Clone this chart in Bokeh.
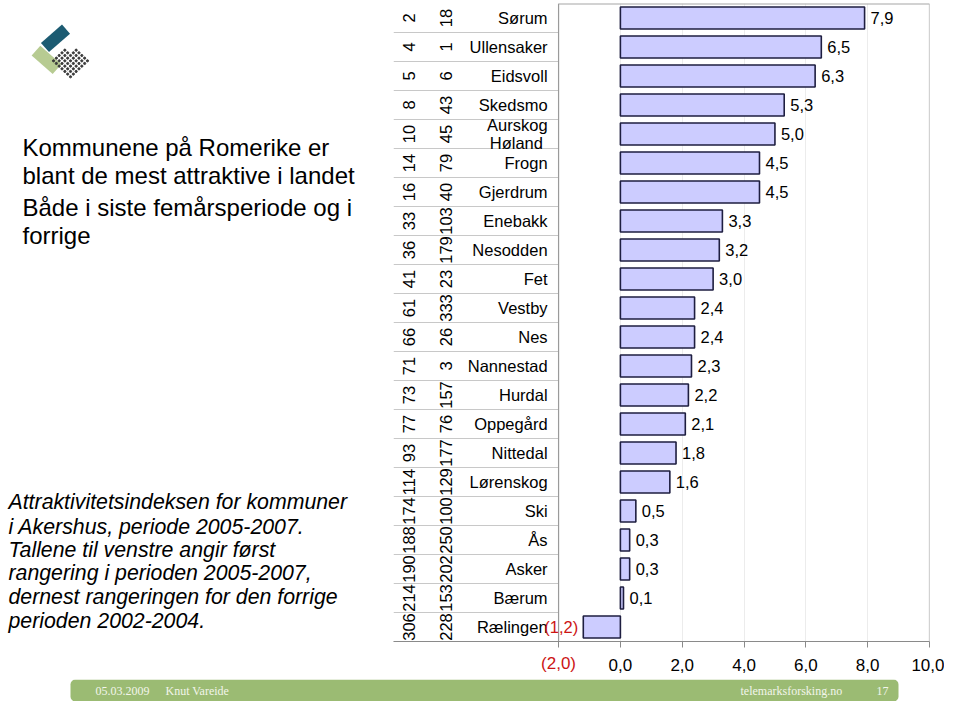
import numpy as np
from bokeh.plotting import figure
from bokeh.models import (Range1d, FixedTicker, LinearAxis, ColumnDataSource,
                          BoxAnnotation)
from bokeh.layouts import row, column
from bokeh.core.properties import value
from bokeh.embed import file_html
from bokeh.resources import INLINE

# ---------------- data ----------------
names = ["Sørum", "Ullensaker", "Eidsvoll", "Skedsmo", "Aurskog\nHøland ", "Frogn",
         "Gjerdrum", "Enebakk", "Nesodden", "Fet", "Vestby", "Nes", "Nannestad",
         "Hurdal", "Oppegård", "Nittedal", "Lørenskog", "Ski", "Ås", "Asker",
         "Bærum", "Rælingen"]
index_values = [7.9, 6.5, 6.3, 5.3, 5.0, 4.5, 4.5, 3.3, 3.2, 3.0, 2.4, 2.4, 2.3,
                2.2, 2.1, 1.8, 1.6, 0.5, 0.3, 0.3, 0.1, -1.2]
rank_2005_2007 = [2, 4, 5, 8, 10, 14, 16, 33, 36, 41, 61, 66, 71, 73, 77, 93, 114,
                  174, 188, 190, 214, 306]
rank_2002_2004 = [18, 1, 6, 43, 45, 79, 40, 103, 179, 23, 333, 26, 3, 157, 76, 177,
                  129, 100, 250, 202, 153, 228]
x_ticks = [-2, 0, 2, 4, 6, 8, 10]

headline = ["Kommunene på Romerike er", "blant de mest attraktive i landet",
            "Både i siste femårsperiode og i", "forrige"]
note = ["Attraktivitetsindeksen for kommuner", "i Akershus, periode 2005-2007.",
        "Tallene til venstre angir først", "rangering i perioden 2005-2007,",
        "dernest rangeringen for den forrige", "perioden 2002-2004."]
footer_texts = ["05.03.2009", "Knut Vareide", "telemarksforsking.no", "17"]

FONT = "Liberation Sans"
SERIF = "Liberation Serif"
RED = "#cc1414"


def fmt(v):
    s = f"{abs(v):.1f}".replace(".", ",")
    return f"({s})" if v < 0 else s


n = len(names)
pos = list(range(n))
bounds = [i + 0.5 for i in range(n)]
x_lo = min(x_ticks)
x_hi = max(x_ticks)
table_left = -7.34
TOP_H = 679

# ---------------- chart ----------------
cf = figure(width=551, height=TOP_H, x_range=Range1d(table_left, x_hi),
            y_range=Range1d(n - 0.5, -0.5), y_axis_location=None,
            output_backend="svg", toolbar_location=None, title=None,
            min_border_left=0, min_border_right=15, min_border_top=3,
            min_border_bottom=TOP_H - 641)
cf.outline_line_color = None
cf.ygrid.visible = False

# x axis (black labels)
xa = cf.xaxis[0]
xa.ticker = FixedTicker(ticks=x_ticks)
xa.major_label_overrides = {t: (fmt(t) if t >= 0 else "") for t in x_ticks}
xa.major_tick_out = 6
xa.major_tick_in = 0
xa.minor_tick_line_color = None
xa.axis_line_color = "#8a8a8a"
xa.major_tick_line_color = "#8a8a8a"
xa.major_label_standoff = 11
xa.major_label_text_font = FONT
xa.major_label_text_font_size = "17px"
xa.major_label_text_color = "black"
cf.xgrid.ticker = FixedTicker(ticks=[t for t in x_ticks if x_lo < t < x_hi])
cf.xgrid.grid_line_color = "#ececec"

# second x axis carrying the red (negative) tick label, pulled up onto the first one
neg_ticks = [t for t in x_ticks if t < 0]
xa2 = LinearAxis(ticker=FixedTicker(ticks=neg_ticks),
                 major_label_overrides={t: fmt(t) for t in neg_ticks},
                 axis_line_color=None, major_tick_line_color=None,
                 minor_tick_line_color=None, major_tick_out=0, major_tick_in=0,
                 major_label_standoff=-20, major_label_text_font=FONT,
                 major_label_text_font_size="17px", major_label_text_color=RED)
cf.add_layout(xa2, "below")

# table: row separators, category axis line, frame top/right
cf.segment(x0=table_left, x1=x_lo, y0=bounds, y1=bounds, line_color="#c8c8c8",
           line_width=1)
cf.segment(x0=[x_lo], x1=[x_lo], y0=[-0.5], y1=[n - 0.5], line_color="#9a9a9a",
           line_width=1.2)
cf.segment(x0=[x_hi], x1=[x_hi], y0=[-0.5], y1=[n - 0.5], line_color="#a6a6a6",
           line_width=1.2)
cf.segment(x0=[x_lo], x1=[x_hi], y0=[-0.5], y1=[-0.5], line_color="#a6a6a6", line_width=2)

tsrc = ColumnDataSource(dict(
    y=pos, name=names,
    r1=[str(r) for r in rank_2005_2007], r2=[str(r) for r in rank_2002_2004],
    xl=[x_lo] * n,
))
cf.text(x="xl", y="y", text="name", source=tsrc, x_offset=-11, text_align="right",
        text_baseline="middle", text_font=value(FONT), text_font_size="16.5px",
        text_color="black", text_line_height=1.05)
cf.text(x="xl", y="y", text="r2", source=tsrc, x_offset=-113, angle=np.pi / 2,
        text_align="center", text_baseline="middle", text_font=value(FONT),
        text_font_size="16.5px", text_color="black")
cf.text(x="xl", y="y", text="r1", source=tsrc, x_offset=-150, angle=np.pi / 2,
        text_align="center", text_baseline="middle", text_font=value(FONT),
        text_font_size="16.5px", text_color="black")

# bars and value labels
src = ColumnDataSource(dict(
    y=pos, v=index_values,
    lab=[fmt(v) if v >= 0 else "" for v in index_values],
    neg=[fmt(v) if v < 0 else "" for v in index_values],
))
cf.hbar(y="y", left=0, right="v", height=0.76, source=src, fill_color="#ccccff",
        line_color="#1e1e40", line_width=1.6)
cf.text(x="v", y="y", text="lab", source=src, x_offset=6, text_align="left",
        text_baseline="middle", text_font=value(FONT), text_font_size="16.5px",
        text_color="black")
cf.text(x="v", y="y", text="neg", source=src, x_offset=-5, text_align="right",
        text_baseline="middle", text_font=value(FONT), text_font_size="16.5px",
        text_color=RED)

# ---------------- left panel ----------------
lf = figure(width=393, height=TOP_H, x_range=Range1d(0, 393), y_range=Range1d(TOP_H, 0),
            x_axis_type=None, y_axis_type=None, output_backend="svg",
            toolbar_location=None, title=None, min_border=0)
lf.outline_line_color = None

# logo
lf.rect(x=[55], y=[37], width=[28], height=[13], angle=[0.72], fill_color="#1c5b72",
        line_color=None)
lf.rect(x=[46], y=[60], width=[28], height=[14], angle=[-0.72], fill_color="#b7cb92",
        line_color=None)
uu, vv = np.meshgrid(np.arange(-12, 13, 4.0), np.arange(-12, 13, 4.0))
uu, vv = uu.ravel(), vv.ravel()
keep = ~((uu < -4) & (vv < -4))
uu, vv = uu[keep], vv[keep]
c, s = np.cos(np.pi / 4), np.sin(np.pi / 4)
lf.scatter(x=70 + uu * c - vv * s, y=61 + uu * s + vv * c, size=2.2, color="#3a3a3a")

lf.text(x=[22] * 4, y=[153, 183, 217, 247], text=headline, text_baseline="alphabetic",
        text_font=value(FONT), text_font_size="24px", text_color="black")
lf.text(x=[8] * 6, y=[531, 557, 582, 606, 632, 657], text=note,
        text_baseline="alphabetic", text_font=value(FONT), text_font_size="21.3px",
        text_font_style="italic", text_color="black")

# ---------------- footer ----------------
FOOT_H = 701 - TOP_H
ff = figure(width=944, height=FOOT_H, x_range=Range1d(0, 944), y_range=Range1d(FOOT_H, 0),
            x_axis_type=None, y_axis_type=None, output_backend="svg",
            toolbar_location=None, title=None, min_border=0)
ff.outline_line_color = None
ff.add_layout(BoxAnnotation(left=70, right=898, top=0, bottom=FOOT_H, fill_color="#9bbb73",
                            fill_alpha=1, line_color=None, border_radius=5,
                            level="underlay"))
ff.text(x=[95, 165, 740, 876], y=[FOOT_H / 2] * 4, text=footer_texts,
        text_baseline="middle", text_font=value(SERIF), text_font_size="12px",
        text_color="#f2f5ea")

layout = column(row(lf, cf), ff)
open("out.html", "w").write(file_html(layout, INLINE))
